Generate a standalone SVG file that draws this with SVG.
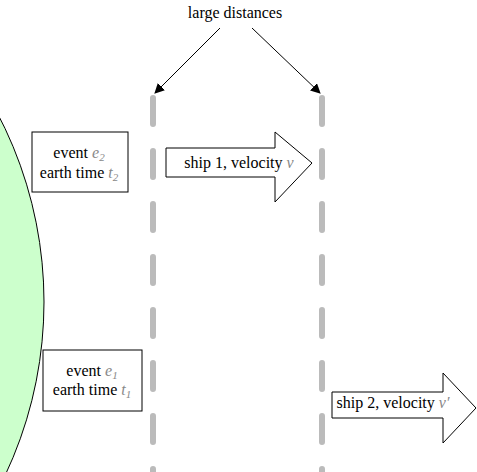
<svg xmlns="http://www.w3.org/2000/svg" width="477" height="472" viewBox="0 0 477 472">
<style>
text{font-family:'Liberation Serif','Times New Roman',serif;font-size:16px;fill:#000}
.m{font-style:italic;fill:#888}
.s{font-size:11px}
.box{fill:#fff;stroke:#000;stroke-width:1}
.dash{stroke:#bbb;stroke-width:6;stroke-linecap:round;stroke-dasharray:26 27;fill:none}
.arr{stroke:#000;stroke-width:1}
</style>
<defs>
<marker id="ah" viewBox="0 0 10 10" refX="9" refY="5" markerWidth="10" markerHeight="10" markerUnits="userSpaceOnUse" orient="auto">
<path d="M0,0 L10,5 L0,10 z" fill="#000"/>
</marker>
</defs>
<g id="earth"><circle cx="-362" cy="302" r="406" fill="#ccffcc" stroke="#000" stroke-width="1"/></g>
<g id="dist-left"><line class="dash" x1="153" y1="98" x2="153" y2="472"/></g>
<g id="dist-right"><line class="dash" x1="322" y1="98" x2="322" y2="472"/></g>
<g id="label"><text x="235" y="18" text-anchor="middle">large distances</text></g>
<g id="connectors">
<line class="arr" x1="220" y1="28" x2="155" y2="93" marker-end="url(#ah)"/>
<line class="arr" x1="252" y1="28" x2="320" y2="93" marker-end="url(#ah)"/>
</g>
<g id="event2">
<rect class="box" x="32" y="132" width="96" height="60"/>
<text x="79" y="158" text-anchor="middle">event <tspan class="m">e</tspan><tspan class="m s" dy="3">2</tspan></text>
<text x="79" y="178" text-anchor="middle">earth time <tspan class="m">t</tspan><tspan class="m s" dy="3">2</tspan></text>
</g>
<g id="event1">
<rect class="box" x="43" y="350" width="99" height="61"/>
<text x="92" y="376" text-anchor="middle">event <tspan class="m">e</tspan><tspan class="m s" dy="3">1</tspan></text>
<text x="92" y="395" text-anchor="middle">earth time <tspan class="m">t</tspan><tspan class="m s" dy="3">1</tspan></text>
</g>
<g id="ship1">
<path class="box" d="M166,148 H275 V132 L312,163 L275,202 V177 H166 Z"/>
<text x="239" y="168" text-anchor="middle">ship 1, velocity <tspan class="m">v</tspan></text>
</g>
<g id="ship2">
<path class="box" d="M332,392 H443 V373 L476,408 L443,443 V418 H332 Z"/>
<text x="393" y="408" text-anchor="middle">ship 2, velocity <tspan class="m">v′</tspan></text>
</g>
</svg>
